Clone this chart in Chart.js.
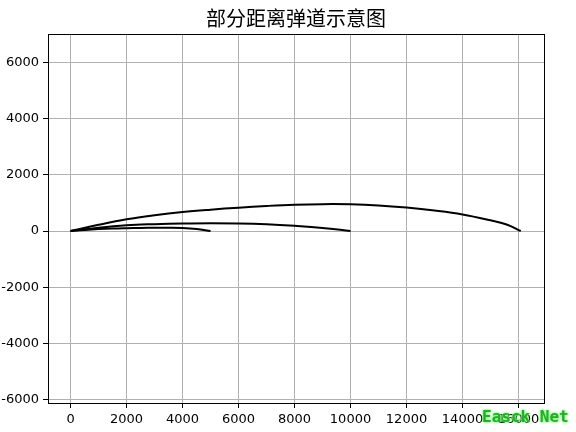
<!DOCTYPE html>
<html>
<head>
<meta charset="utf-8">
<script src="https://cdn.jsdelivr.net/npm/chart.js@4/dist/chart.umd.min.js"></script>
<style>
  html, body { margin: 0; padding: 0; background: #fff; }
  #wrap { position: relative; width: 576px; height: 432px; }
  #mark {
    position: absolute; left: 482px; top: 407px;
    font-family: 'DejaVu Sans Mono', monospace; font-size: 16px; font-weight: bold;
    color: #22b022; text-shadow: 0 0 3px #6f6, 0 0 2px #9f9, 0 0 1px #6f6;
    white-space: pre;
  }
</style>
</head>
<body>
<div id="wrap">
  <canvas id="c" width="576" height="432"></canvas>
  <div id="mark">Easck Net</div>
</div>
<script>
// trajectories (range m, height m)
const range5k_x = [0, 500, 1000, 1500, 2000, 2500, 3000, 3500, 4000, 4500, 5000];
const range5k_y = [0, 40, 70, 90, 102, 110, 114, 114, 105, 70, 0];

const range10k_x = [0, 1000, 2000, 3000, 4000, 5000, 6000, 7000, 8000, 9000, 10000];
const range10k_y = [0, 120, 205, 245, 270, 280, 270, 240, 185, 110, 0];

const range16k_x = [0, 1000, 2000, 3000, 4000, 5000, 6000, 7000, 8000, 9000, 10000, 11000, 12000, 13000, 14000, 15000, 15600, 16080];
const range16k_y = [0, 220, 415, 560, 675, 760, 830, 890, 935, 955, 950, 910, 835, 730, 590, 380, 225, 0];

const xTicks = [0, 2000, 4000, 6000, 8000, 10000, 12000, 14000, 16000];
const yTicks = [-6000, -4000, -2000, 0, 2000, 4000, 6000];

const TITLE = '部分距离弹道示意图';

function pts(xs, ys) { return xs.map((x, i) => ({ x: x, y: ys[i] })); }

const FONT = { family: 'DejaVu Sans', size: 13 };

// axes box + title centred over the plot area
const frame = {
  id: 'frame',
  afterDraw(chart) {
    const a = chart.chartArea;
    const ctx = chart.ctx;
    ctx.save();
    ctx.strokeStyle = '#000';
    ctx.lineWidth = 1;
    ctx.strokeRect(Math.round(a.left) + 0.5, Math.round(a.top) + 0.5,
      Math.round(a.right - a.left), Math.round(a.bottom - a.top));
    ctx.fillStyle = '#000';
    ctx.font = '20px "Noto Sans CJK SC"';
    ctx.textAlign = 'center';
    ctx.textBaseline = 'middle';
    ctx.fillText(TITLE, (a.left + a.right) / 2, 18);
    ctx.restore();
  }
};

function line(xs, ys) {
  return {
    data: pts(xs, ys),
    showLine: true,
    borderColor: '#000',
    borderWidth: 2,
    pointRadius: 0,
    tension: 0.4,
    fill: false
  };
}

new Chart(document.getElementById('c'), {
  type: 'scatter',
  plugins: [frame],
  data: {
    datasets: [
      line(range5k_x, range5k_y),
      line(range10k_x, range10k_y),
      line(range16k_x, range16k_y)
    ]
  },
  options: {
    responsive: false,
    animation: false,
    layout: { padding: { left: 0, right: 32, top: 34, bottom: 0 } },
    plugins: {
      legend: { display: false },
      tooltip: { enabled: false },
      title: { display: false }
    },
    scales: {
      x: {
        type: 'linear',
        min: -805,
        max: 16910,
        afterBuildTicks: s => { s.ticks = xTicks.map(v => ({ value: v })); },
        afterFit: s => { s.height = 29; },
        grid: { color: '#b0b0b0', lineWidth: 1, tickColor: '#000', tickLength: 5 },
        border: { display: false },
        ticks: { color: '#000', font: FONT, padding: 4, maxRotation: 0, autoSkip: false, callback: v => String(v) }
      },
      y: {
        type: 'linear',
        min: -6110,
        max: 7000,
        afterBuildTicks: s => { s.ticks = yTicks.map(v => ({ value: v })); },
        afterFit: s => { s.width = 48; },
        grid: { color: '#b0b0b0', lineWidth: 1, tickColor: '#000', tickLength: 5 },
        border: { display: false },
        ticks: { color: '#000', font: FONT, padding: 4, autoSkip: false, callback: v => String(v) }
      }
    }
  }
});
</script>
</body>
</html>
